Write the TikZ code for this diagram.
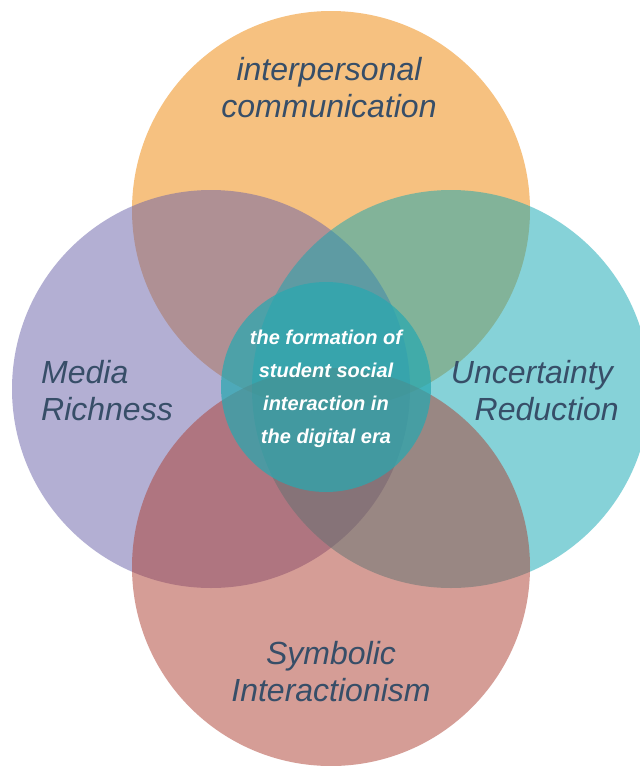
\documentclass[tikz,border=0pt]{standalone}
\usepackage{fontspec}
\setmainfont{Liberation Sans}
\definecolor{corange}{RGB}{238,132,2}
\definecolor{cpurple}{RGB}{105,97,169}
\definecolor{cteal}{RGB}{15,167,179}
\definecolor{cred}{RGB}{173,61,47}
\definecolor{ccenter}{RGB}{40,168,176}
\definecolor{ctext}{RGB}{55,78,104}
\tikzset{
  venn/.style={fill opacity=0.5},
  label/.style={text=ctext, font=\fontsize{32}{37}\selectfont\itshape, inner sep=0pt},
  centertext/.style={text=white, font=\fontsize{20}{33}\selectfont\bfseries\itshape, inner sep=0pt, align=center}
}
\begin{document}
\begin{tikzpicture}[x=1pt,y=-1pt]
\useasboundingbox (0,0) rectangle (640,766);
\clip (0,0) rectangle (640,766);
\fill[white] (0,0) rectangle (640,766);
\fill[venn, corange] (331,210) circle [radius=199pt];
\fill[venn, cpurple] (211,389) circle [radius=199pt];
\fill[venn, cteal] (451,389) circle [radius=199pt];
\fill[venn, cred] (331,567) circle [radius=199pt];
\fill[ccenter, fill opacity=0.72] (326,387) circle [radius=105pt];
\node[label, align=center] (ip) at (329,88) {interpersonal\\communication};
\node[label, align=left, anchor=west] (mr) at (41,391) {Media\\Richness};
\node[label, align=right, anchor=east] (ur) at (619,391) {Uncertainty\hspace*{6pt}\\Reduction};
\node[label, align=center] (si) at (331,672) {Symbolic\\Interactionism};
\node[centertext] (ct) at (326,389) {the formation of\\student social\\interaction in\\the digital era};
\end{tikzpicture}
\end{document}
